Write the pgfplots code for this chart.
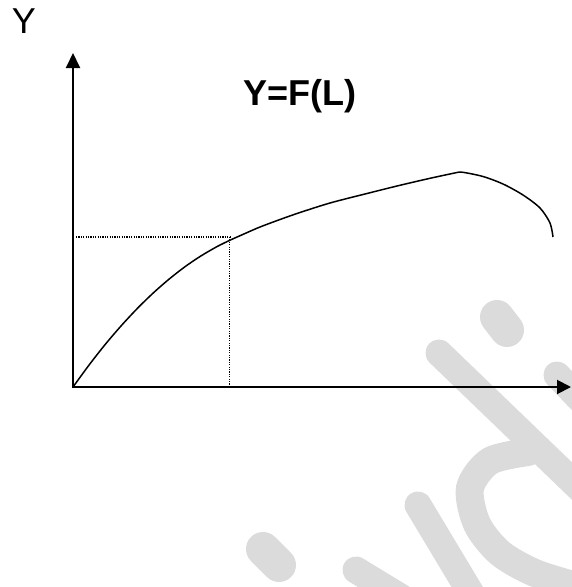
\documentclass[border=0pt]{standalone}
\usepackage{pgfplots}
\pgfplotsset{compat=1.18}
\usepackage{fontspec}
\setmainfont{Liberation Sans}
\usetikzlibrary{arrows.meta}
\begin{document}
\begin{tikzpicture}
\begin{axis}[scale only axis, width=572pt, height=587pt,
  xmin=0, xmax=572, ymin=0, ymax=587, y dir=reverse,
  hide axis, clip=true]
\coordinate (SW) at (axis cs:0,587);
\coordinate (NE) at (axis cs:572,0);
% watermark
\addplot[no marks, color=gray!28, line width=34pt, line cap=round] coordinates {(497,317)(507,330)};
\addplot[no marks, color=gray!28, line width=27pt, line cap=round] coordinates {(439,353)(600,508)};
\addplot[no marks, color=gray!28, line width=27pt, line cap=round] coordinates {(557,375)(600,420)};
\addplot[no marks, smooth, color=gray!28, line width=28pt, line cap=round] coordinates {(528,452)(490,461)(470,488)(477,524)(500,553)(535,573)(580,587)};
\addplot[no marks, color=gray!28, line width=27pt, line cap=round] coordinates {(418,505)(478,605)};
\addplot[no marks, color=gray!28, line width=27pt, line cap=round] coordinates {(356,570)(430,615)};
\addplot[no marks, color=gray!28, line width=34pt, line cap=round] coordinates {(263,549)(279,565)};
% dotted guides
\addplot[no marks, black, line width=1.2pt, dash pattern=on 1.2pt off 1.2pt] coordinates {(76,237)(230,237)};
\addplot[no marks, black, line width=1.2pt, dash pattern=on 1.2pt off 1.2pt] coordinates {(229.5,237)(229.5,386)};
% axes
\addplot[no marks, black, line width=2pt, -{Triangle[length=15pt,width=14pt]}] coordinates {(73,388)(73,53)};
\addplot[no marks, black, line width=2pt, -{Triangle[length=14pt,width=14pt]}] coordinates {(72,387)(571,387)};
% curve
\addplot[no marks, smooth, tension=0.5, black, line width=1.5pt] coordinates {
 (73,387)(89,365.1)(105,344.7)(121,326)(137,308.8)(153,293.2)(169,279.2)(185,266.7)(201,255.9)(217,246.6)(230,240.2)
 (245,233.5)(260,227)(280,219.5)(300,212.5)(330,203)(363,194.5)(397,186)(430,178.3)(457,172.5)};
\addplot[no marks, smooth, tension=0.5, black, line width=1.5pt] coordinates {
 (457,172.5)(463,172.3)(483,176.5)(503,184)(523,195)(540,208)(550,223)(553,237)};
% text
\node[font=\fontsize{36}{40}\selectfont, anchor=center] at (axis cs:24,21) {Y};
\node[font=\fontsize{36}{40}\selectfont\bfseries, anchor=center] at (axis cs:300,96) {Y=F(L)};
\end{axis}
\pgfresetboundingbox
\path (SW) rectangle (NE);
\end{tikzpicture}
\end{document}
